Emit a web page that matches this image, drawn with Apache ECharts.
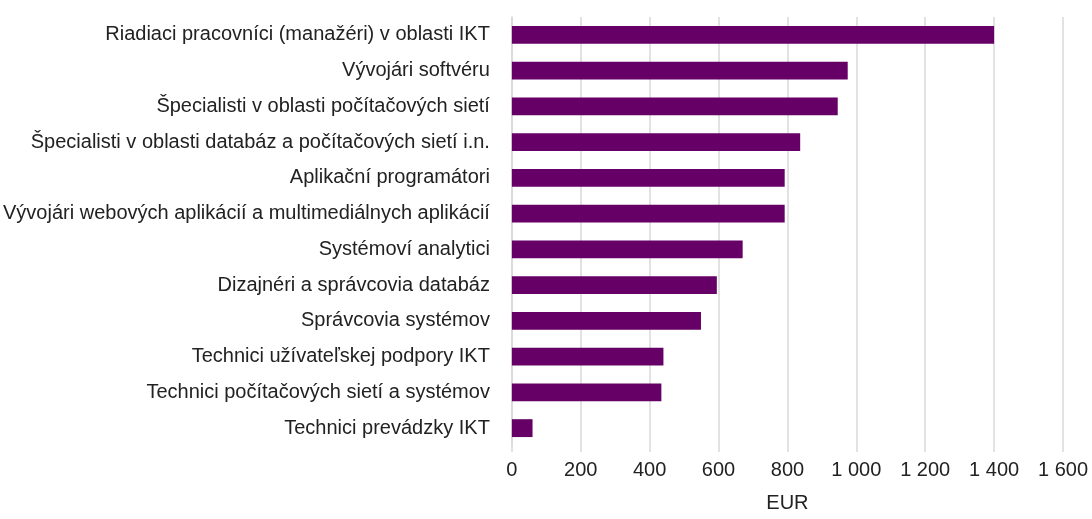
<!DOCTYPE html>
<html>
<head>
<meta charset="utf-8">
<script src="https://cdn.jsdelivr.net/npm/echarts@6/dist/echarts.min.js"></script>
<style>
  html, body { margin: 0; padding: 0; background: #fff; }
  #main { width: 1092px; height: 519px; }
</style>
</head>
<body>
<div id="main"></div>
<script>
// kategórie (zhora nadol)
var categories = [
  'Riadiaci pracovníci (manažéri) v oblasti IKT',
  'Vývojári softvéru',
  'Špecialisti v oblasti počítačových sietí',
  'Špecialisti v oblasti databáz a počítačových sietí i.n.',
  'Aplikační programátori',
  'Vývojári webových aplikácií a multimediálnych aplikácií',
  'Systémoví analytici',
  'Dizajnéri a správcovia databáz',
  'Správcovia systémov',
  'Technici užívateľskej podpory IKT',
  'Technici počítačových sietí a systémov',
  'Technici prevádzky IKT'
];
// hodnoty v EUR
var values = [1400, 975, 946, 837, 792, 792, 670, 595, 549, 440, 434, 60];

var chart = echarts.init(document.getElementById('main'));

var option = {
  animation: false,
  textStyle: { fontFamily: 'Liberation Sans' },
  grid: { left: 509, right: 29, top: 17, bottom: 73, containLabel: false },
  xAxis: {
    type: 'value',
    min: 0,
    max: 1600,
    interval: 200,
    name: 'EUR',
    nameLocation: 'middle',
    nameGap: 47,
    nameTextStyle: { fontSize: 20, color: '#222' },
    axisLine: { show: false },
    axisTick: { show: true, length: 6, lineStyle: { color: '#d9d9d9', width: 1.5 } },
    axisLabel: {
      fontSize: 20,
      color: '#222',
      margin: 14,
      formatter: function (v) {
        return String(v).replace(/\B(?=(\d{3})+(?!\d))/g, ' ');
      }
    },
    splitLine: { show: true, lineStyle: { color: '#d9d9d9', width: 1.5 } }
  },
  yAxis: {
    type: 'category',
    inverse: true,
    data: categories,
    axisLine: { show: true, lineStyle: { color: '#d9d9d9', width: 1.5 } },
    axisTick: { show: false },
    axisLabel: { fontSize: 20, color: '#222', margin: 22 }
  },
  series: [{
    type: 'bar',
    data: values,
    barWidth: '50%',
    itemStyle: { color: '#660066' }
  }]
};

chart.setOption(option);
</script>
</body>
</html>
